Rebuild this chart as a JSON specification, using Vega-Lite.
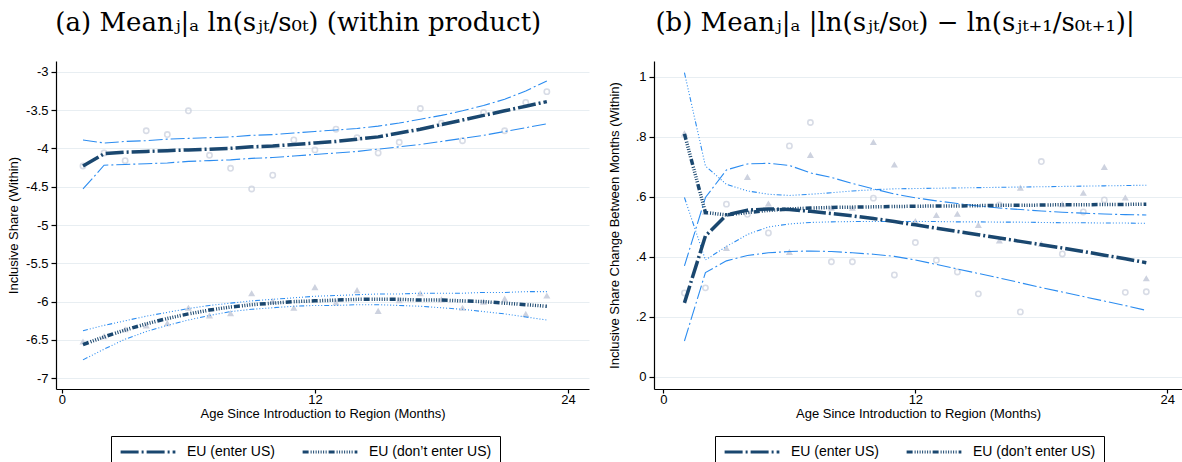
{
  "$schema": "https://vega.github.io/schema/vega-lite/v6.json",
  "padding": {"left": 7, "top": 10, "right": 0, "bottom": 0},
  "background": "white",
  "config": {
    "view": {"stroke": null},
    "font": "Liberation Sans",
    "axis": {
      "labelFont": "Liberation Sans", "labelFontSize": 13, "labelColor": "black",
      "titleFont": "Liberation Sans", "titleFontSize": 13, "titleColor": "black", "titleFontWeight": "normal",
      "domainColor": "black", "domainWidth": 1.2, "tickColor": "black", "tickSize": 5, "tickWidth": 1.2,
      "labelPadding": 3, "gridColor": "#e8eef2", "gridWidth": 1
    },
    "axisX": {"tickSize": 4, "labelPadding": 0, "titlePadding": 1},
    "title": {"font": "DejaVu Serif", "fontSize": 26, "fontWeight": "normal", "color": "black", "anchor": "middle", "frame": "bounds", "offset": 25},
    "concat": {"spacing": 19}
  },
  "datasets": {
    "left": [
      {"month": 1, "grp": "EU (enter US)", "pt": -4.23, "fit": -4.23, "lo": -4.53, "hi": -3.89},
      {"month": 2, "grp": "EU (enter US)", "pt": -4.06, "fit": -4.07, "lo": -4.22, "hi": -3.93},
      {"month": 3, "grp": "EU (enter US)", "pt": -4.16, "fit": -4.05, "lo": -4.21, "hi": -3.91},
      {"month": 4, "grp": "EU (enter US)", "pt": -3.77, "fit": -4.04, "lo": -4.20, "hi": -3.90},
      {"month": 5, "grp": "EU (enter US)", "pt": -3.82, "fit": -4.03, "lo": -4.19, "hi": -3.88},
      {"month": 6, "grp": "EU (enter US)", "pt": -3.51, "fit": -4.02, "lo": -4.17, "hi": -3.87},
      {"month": 7, "grp": "EU (enter US)", "pt": -4.09, "fit": -4.01, "lo": -4.16, "hi": -3.86},
      {"month": 8, "grp": "EU (enter US)", "pt": -4.26, "fit": -4.00, "lo": -4.15, "hi": -3.85},
      {"month": 9, "grp": "EU (enter US)", "pt": -4.53, "fit": -3.98, "lo": -4.13, "hi": -3.83},
      {"month": 10, "grp": "EU (enter US)", "pt": -4.35, "fit": -3.97, "lo": -4.12, "hi": -3.82},
      {"month": 11, "grp": "EU (enter US)", "pt": -3.89, "fit": -3.95, "lo": -4.10, "hi": -3.80},
      {"month": 12, "grp": "EU (enter US)", "pt": -4.02, "fit": -3.93, "lo": -4.08, "hi": -3.78},
      {"month": 13, "grp": "EU (enter US)", "pt": -3.75, "fit": -3.91, "lo": -4.06, "hi": -3.76},
      {"month": 14, "grp": "EU (enter US)", "pt": -3.86, "fit": -3.88, "lo": -4.04, "hi": -3.74},
      {"month": 15, "grp": "EU (enter US)", "pt": -4.06, "fit": -3.85, "lo": -4.01, "hi": -3.71},
      {"month": 16, "grp": "EU (enter US)", "pt": -3.92, "fit": -3.80, "lo": -3.98, "hi": -3.67},
      {"month": 17, "grp": "EU (enter US)", "pt": -3.48, "fit": -3.75, "lo": -3.95, "hi": -3.62},
      {"month": 18, "grp": "EU (enter US)", "pt": -3.67, "fit": -3.69, "lo": -3.91, "hi": -3.57},
      {"month": 19, "grp": "EU (enter US)", "pt": -3.90, "fit": -3.63, "lo": -3.87, "hi": -3.51},
      {"month": 20, "grp": "EU (enter US)", "pt": -3.53, "fit": -3.57, "lo": -3.83, "hi": -3.44},
      {"month": 21, "grp": "EU (enter US)", "pt": -3.77, "fit": -3.51, "lo": -3.78, "hi": -3.36},
      {"month": 22, "grp": "EU (enter US)", "pt": -3.40, "fit": -3.45, "lo": -3.73, "hi": -3.25},
      {"month": 23, "grp": "EU (enter US)", "pt": -3.26, "fit": -3.39, "lo": -3.68, "hi": -3.12},
      {"month": 1, "grp": "EU (don’t enter US)", "pt": -6.52, "fit": -6.56, "lo": -6.76, "hi": -6.38},
      {"month": 2, "grp": "EU (don’t enter US)", "pt": -6.45, "fit": -6.46, "lo": -6.62, "hi": -6.31},
      {"month": 3, "grp": "EU (don’t enter US)", "pt": -6.36, "fit": -6.37, "lo": -6.49, "hi": -6.25},
      {"month": 4, "grp": "EU (don’t enter US)", "pt": -6.31, "fit": -6.29, "lo": -6.39, "hi": -6.19},
      {"month": 5, "grp": "EU (don’t enter US)", "pt": -6.28, "fit": -6.22, "lo": -6.31, "hi": -6.14},
      {"month": 6, "grp": "EU (don’t enter US)", "pt": -6.08, "fit": -6.16, "lo": -6.24, "hi": -6.09},
      {"month": 7, "grp": "EU (don’t enter US)", "pt": -6.18, "fit": -6.11, "lo": -6.18, "hi": -6.05},
      {"month": 8, "grp": "EU (don’t enter US)", "pt": -6.15, "fit": -6.07, "lo": -6.13, "hi": -6.02},
      {"month": 9, "grp": "EU (don’t enter US)", "pt": -5.89, "fit": -6.04, "lo": -6.10, "hi": -5.99},
      {"month": 10, "grp": "EU (don’t enter US)", "pt": -5.99, "fit": -6.02, "lo": -6.08, "hi": -5.97},
      {"month": 11, "grp": "EU (don’t enter US)", "pt": -6.08, "fit": -6.00, "lo": -6.06, "hi": -5.95},
      {"month": 12, "grp": "EU (don’t enter US)", "pt": -5.81, "fit": -5.99, "lo": -6.05, "hi": -5.93},
      {"month": 13, "grp": "EU (don’t enter US)", "pt": -6.01, "fit": -5.98, "lo": -6.05, "hi": -5.92},
      {"month": 14, "grp": "EU (don’t enter US)", "pt": -5.85, "fit": -5.97, "lo": -6.04, "hi": -5.91},
      {"month": 15, "grp": "EU (don’t enter US)", "pt": -6.12, "fit": -5.97, "lo": -6.04, "hi": -5.90},
      {"month": 16, "grp": "EU (don’t enter US)", "pt": -5.98, "fit": -5.97, "lo": -6.05, "hi": -5.90},
      {"month": 17, "grp": "EU (don’t enter US)", "pt": -5.89, "fit": -5.98, "lo": -6.06, "hi": -5.89},
      {"month": 18, "grp": "EU (don’t enter US)", "pt": -5.97, "fit": -5.98, "lo": -6.08, "hi": -5.89},
      {"month": 19, "grp": "EU (don’t enter US)", "pt": -6.08, "fit": -5.99, "lo": -6.10, "hi": -5.89},
      {"month": 20, "grp": "EU (don’t enter US)", "pt": -6.00, "fit": -6.00, "lo": -6.13, "hi": -5.88},
      {"month": 21, "grp": "EU (don’t enter US)", "pt": -5.96, "fit": -6.02, "lo": -6.16, "hi": -5.88},
      {"month": 22, "grp": "EU (don’t enter US)", "pt": -6.16, "fit": -6.04, "lo": -6.20, "hi": -5.87},
      {"month": 23, "grp": "EU (don’t enter US)", "pt": -5.92, "fit": -6.06, "lo": -6.24, "hi": -5.87}
    ],
    "right": [
      {"month": 1, "grp": "EU (enter US)", "pt": 0.28, "fit": 0.247, "lo": 0.12, "hi": 0.37},
      {"month": 2, "grp": "EU (enter US)", "pt": 0.297, "fit": 0.47, "lo": 0.348, "hi": 0.598},
      {"month": 3, "grp": "EU (enter US)", "pt": 0.576, "fit": 0.54, "lo": 0.387, "hi": 0.69},
      {"month": 4, "grp": "EU (enter US)", "pt": 0.542, "fit": 0.556, "lo": 0.405, "hi": 0.71},
      {"month": 5, "grp": "EU (enter US)", "pt": 0.48, "fit": 0.56, "lo": 0.414, "hi": 0.712},
      {"month": 6, "grp": "EU (enter US)", "pt": 0.77, "fit": 0.558, "lo": 0.418, "hi": 0.705},
      {"month": 7, "grp": "EU (enter US)", "pt": 0.848, "fit": 0.552, "lo": 0.42, "hi": 0.68},
      {"month": 8, "grp": "EU (enter US)", "pt": 0.384, "fit": 0.545, "lo": 0.418, "hi": 0.665},
      {"month": 9, "grp": "EU (enter US)", "pt": 0.384, "fit": 0.537, "lo": 0.414, "hi": 0.645},
      {"month": 10, "grp": "EU (enter US)", "pt": 0.596, "fit": 0.528, "lo": 0.409, "hi": 0.627},
      {"month": 11, "grp": "EU (enter US)", "pt": 0.34, "fit": 0.518, "lo": 0.402, "hi": 0.61},
      {"month": 12, "grp": "EU (enter US)", "pt": 0.448, "fit": 0.507, "lo": 0.39, "hi": 0.597},
      {"month": 13, "grp": "EU (enter US)", "pt": 0.389, "fit": 0.496, "lo": 0.375, "hi": 0.587},
      {"month": 14, "grp": "EU (enter US)", "pt": 0.35, "fit": 0.485, "lo": 0.36, "hi": 0.578},
      {"month": 15, "grp": "EU (enter US)", "pt": 0.277, "fit": 0.474, "lo": 0.345, "hi": 0.57},
      {"month": 16, "grp": "EU (enter US)", "pt": 0.573, "fit": 0.463, "lo": 0.33, "hi": 0.563},
      {"month": 17, "grp": "EU (enter US)", "pt": 0.217, "fit": 0.452, "lo": 0.314, "hi": 0.558},
      {"month": 18, "grp": "EU (enter US)", "pt": 0.718, "fit": 0.441, "lo": 0.298, "hi": 0.553},
      {"month": 19, "grp": "EU (enter US)", "pt": 0.41, "fit": 0.43, "lo": 0.283, "hi": 0.549},
      {"month": 20, "grp": "EU (enter US)", "pt": 0.55, "fit": 0.418, "lo": 0.268, "hi": 0.546},
      {"month": 21, "grp": "EU (enter US)", "pt": 0.59, "fit": 0.406, "lo": 0.253, "hi": 0.543},
      {"month": 22, "grp": "EU (enter US)", "pt": 0.282, "fit": 0.394, "lo": 0.238, "hi": 0.541},
      {"month": 23, "grp": "EU (enter US)", "pt": 0.284, "fit": 0.381, "lo": 0.222, "hi": 0.54},
      {"month": 1, "grp": "EU (don’t enter US)", "pt": 0.812, "fit": 0.81, "lo": 0.598, "hi": 1.014},
      {"month": 2, "grp": "EU (don’t enter US)", "pt": 0.551, "fit": 0.548, "lo": 0.39, "hi": 0.703},
      {"month": 3, "grp": "EU (don’t enter US)", "pt": 0.43, "fit": 0.54, "lo": 0.435, "hi": 0.642},
      {"month": 4, "grp": "EU (don’t enter US)", "pt": 0.667, "fit": 0.548, "lo": 0.475, "hi": 0.62},
      {"month": 5, "grp": "EU (don’t enter US)", "pt": 0.578, "fit": 0.555, "lo": 0.5, "hi": 0.609},
      {"month": 6, "grp": "EU (don’t enter US)", "pt": 0.417, "fit": 0.56, "lo": 0.51, "hi": 0.605},
      {"month": 7, "grp": "EU (don’t enter US)", "pt": 0.74, "fit": 0.563, "lo": 0.515, "hi": 0.609},
      {"month": 8, "grp": "EU (don’t enter US)", "pt": 0.564, "fit": 0.565, "lo": 0.517, "hi": 0.614},
      {"month": 9, "grp": "EU (don’t enter US)", "pt": 0.564, "fit": 0.566, "lo": 0.518, "hi": 0.62},
      {"month": 10, "grp": "EU (don’t enter US)", "pt": 0.783, "fit": 0.567, "lo": 0.518, "hi": 0.624},
      {"month": 11, "grp": "EU (don’t enter US)", "pt": 0.708, "fit": 0.568, "lo": 0.518, "hi": 0.627},
      {"month": 12, "grp": "EU (don’t enter US)", "pt": 0.52, "fit": 0.569, "lo": 0.518, "hi": 0.628},
      {"month": 13, "grp": "EU (don’t enter US)", "pt": 0.54, "fit": 0.57, "lo": 0.518, "hi": 0.629},
      {"month": 14, "grp": "EU (don’t enter US)", "pt": 0.544, "fit": 0.57, "lo": 0.517, "hi": 0.63},
      {"month": 15, "grp": "EU (don’t enter US)", "pt": 0.507, "fit": 0.571, "lo": 0.517, "hi": 0.631},
      {"month": 16, "grp": "EU (don’t enter US)", "pt": 0.455, "fit": 0.572, "lo": 0.516, "hi": 0.632},
      {"month": 17, "grp": "EU (don’t enter US)", "pt": 0.631, "fit": 0.572, "lo": 0.516, "hi": 0.633},
      {"month": 18, "grp": "EU (don’t enter US)", "pt": 0.444, "fit": 0.573, "lo": 0.515, "hi": 0.634},
      {"month": 19, "grp": "EU (don’t enter US)", "pt": 0.576, "fit": 0.574, "lo": 0.514, "hi": 0.635},
      {"month": 20, "grp": "EU (don’t enter US)", "pt": 0.614, "fit": 0.574, "lo": 0.514, "hi": 0.636},
      {"month": 21, "grp": "EU (don’t enter US)", "pt": 0.7, "fit": 0.575, "lo": 0.513, "hi": 0.637},
      {"month": 22, "grp": "EU (don’t enter US)", "pt": 0.598, "fit": 0.575, "lo": 0.513, "hi": 0.638},
      {"month": 23, "grp": "EU (don’t enter US)", "pt": 0.329, "fit": 0.576, "lo": 0.512, "hi": 0.639}
    ]
  },
  "resolve": {"scale": {"strokeDash": "independent", "x": "independent", "y": "independent"}, "legend": {"strokeDash": "independent"}},
  "hconcat": [
    {
      "width": 533, "height": 328,
      "title": {"text": "(a) Meanⱼ|ₐ ln(sⱼₜ/s₀ₜ) (within product)"},
      "data": {"name": "left"},
      "transform": [{"fold": ["pt", "fit", "lo", "hi"], "as": ["key", "value"]}],
      "encoding": {
        "x": {"field": "month", "type": "quantitative", "scale": {"domain": [-0.28, 25.0], "nice": false, "zero": false},
              "axis": {"values": [0, 12, 24], "title": "Age Since Introduction to Region (Months)", "grid": false}},
        "y": {"field": "value", "type": "quantitative", "scale": {"domain": [-7.14, -2.86], "nice": false, "zero": false},
              "axis": {"values": [-7, -6.5, -6, -5.5, -5, -4.5, -4, -3.5, -3], "labelExpr": "'' + datum.value", "title": "Inclusive Share (Within)", "grid": true, "titlePadding": 5}}
      },
      "layer": [
        {"transform": [{"filter": "datum.key == 'pt' && datum.grp == 'EU (enter US)'"}],
         "mark": {"type": "point", "shape": "circle", "filled": false, "color": "#c8cedc", "strokeWidth": 1.6, "size": 28}},
        {"transform": [{"filter": "datum.key == 'pt' && datum.grp != 'EU (enter US)'"}],
         "mark": {"type": "point", "shape": "triangle-up", "filled": true, "color": "#cdd2df", "size": 50, "opacity": 1}},
        {"transform": [{"filter": "datum.key == 'hi' && datum.grp == 'EU (enter US)'"}],
         "mark": {"type": "line", "color": "#2b8cf0", "strokeWidth": 1.1, "strokeDash": [14, 3, 2, 3]}},
        {"transform": [{"filter": "datum.key == 'lo' && datum.grp == 'EU (enter US)'"}],
         "mark": {"type": "line", "color": "#2b8cf0", "strokeWidth": 1.1, "strokeDash": [14, 3, 2, 3]}},
        {"transform": [{"filter": "datum.key == 'hi' && datum.grp != 'EU (enter US)'"}],
         "mark": {"type": "line", "color": "#2b8cf0", "strokeWidth": 1.1, "strokeDash": [5, 2, 1, 2, 1, 2, 1, 2, 1, 2, 1, 2, 1, 2]}},
        {"transform": [{"filter": "datum.key == 'lo' && datum.grp != 'EU (enter US)'"}],
         "mark": {"type": "line", "color": "#2b8cf0", "strokeWidth": 1.1, "strokeDash": [5, 2, 1, 2, 1, 2, 1, 2, 1, 2, 1, 2, 1, 2]}},
        {"transform": [{"filter": "datum.key == 'fit'"}],
         "mark": {"type": "line", "color": "#1a476f", "strokeWidth": 3.5},
         "encoding": {
           "detail": {"field": "grp"},
           "strokeDash": {"field": "grp", "type": "nominal",
             "scale": {"domain": ["EU (enter US)", "EU (don’t enter US)"], "range": [[18, 3, 2, 3], [6, 2, 1, 1.5, 1, 1.5, 1, 1.5, 1, 1.5, 1, 1.5, 1, 1.5, 1, 2]]},
             "legend": {"orient": "none", "legendX": 55, "legendY": 375, "direction": "horizontal", "columns": 2, "title": null,
               "symbolType": "stroke", "symbolSize": 3000, "clipHeight": 16, "symbolStrokeWidth": 3, "symbolStrokeColor": "#1a476f",
               "labelFont": "Liberation Sans", "labelFontSize": 14, "labelColor": "black", "labelLimit": 300,
               "strokeColor": "black", "fillColor": "white", "padding": 8, "columnPadding": 26, "labelOffset": 10}}
         }}
      ]
    },
    {
      "width": 528, "height": 328,
      "title": {"text": "(b) Meanⱼ|ₐ |ln(sⱼₜ/s₀ₜ) − ln(sⱼₜ₊₁/s₀ₜ₊₁)|"},
      "data": {"name": "right"},
      "transform": [{"fold": ["pt", "fit", "lo", "hi"], "as": ["key", "value"]}],
      "encoding": {
        "x": {"field": "month", "type": "quantitative", "scale": {"domain": [-0.45, 24.7], "nice": false, "zero": false},
              "axis": {"values": [0, 12, 24], "title": "Age Since Introduction to Region (Months)", "grid": false}},
        "y": {"field": "value", "type": "quantitative", "scale": {"domain": [-0.04, 1.053], "nice": false, "zero": false},
              "axis": {"values": [0, 0.2, 0.4, 0.6, 0.8, 1], "labelExpr": "datum.value == 0 ? '0' : datum.value == 1 ? '1' : substring('' + datum.value, 1)", "title": "Inclusive Share Change Between Months (Within)", "grid": true, "titlePadding": 14}}
      },
      "layer": [
        {"transform": [{"filter": "datum.key == 'pt' && datum.grp == 'EU (enter US)'"}],
         "mark": {"type": "point", "shape": "circle", "filled": false, "color": "#c8cedc", "strokeWidth": 1.6, "size": 28}},
        {"transform": [{"filter": "datum.key == 'pt' && datum.grp != 'EU (enter US)'"}],
         "mark": {"type": "point", "shape": "triangle-up", "filled": true, "color": "#cdd2df", "size": 50, "opacity": 1}},
        {"transform": [{"filter": "datum.key == 'hi' && datum.grp == 'EU (enter US)'"}],
         "mark": {"type": "line", "color": "#2b8cf0", "strokeWidth": 1.1, "strokeDash": [14, 3, 2, 3]}},
        {"transform": [{"filter": "datum.key == 'lo' && datum.grp == 'EU (enter US)'"}],
         "mark": {"type": "line", "color": "#2b8cf0", "strokeWidth": 1.1, "strokeDash": [14, 3, 2, 3]}},
        {"transform": [{"filter": "datum.key == 'hi' && datum.grp != 'EU (enter US)'"}],
         "mark": {"type": "line", "color": "#2b8cf0", "strokeWidth": 1.1, "strokeDash": [5, 2, 1, 2, 1, 2, 1, 2, 1, 2, 1, 2, 1, 2]}},
        {"transform": [{"filter": "datum.key == 'lo' && datum.grp != 'EU (enter US)'"}],
         "mark": {"type": "line", "color": "#2b8cf0", "strokeWidth": 1.1, "strokeDash": [5, 2, 1, 2, 1, 2, 1, 2, 1, 2, 1, 2, 1, 2]}},
        {"transform": [{"filter": "datum.key == 'fit'"}],
         "mark": {"type": "line", "color": "#1a476f", "strokeWidth": 3.5},
         "encoding": {
           "detail": {"field": "grp"},
           "strokeDash": {"field": "grp", "type": "nominal",
             "scale": {"domain": ["EU (enter US)", "EU (don’t enter US)"], "range": [[18, 3, 2, 3], [6, 2, 1, 1.5, 1, 1.5, 1, 1.5, 1, 1.5, 1, 1.5, 1, 1.5, 1, 2]]},
             "legend": {"orient": "none", "legendX": 61, "legendY": 375, "direction": "horizontal", "columns": 2, "title": null,
               "symbolType": "stroke", "symbolSize": 3000, "clipHeight": 16, "symbolStrokeWidth": 3, "symbolStrokeColor": "#1a476f",
               "labelFont": "Liberation Sans", "labelFontSize": 14, "labelColor": "black", "labelLimit": 300,
               "strokeColor": "black", "fillColor": "white", "padding": 8, "columnPadding": 26, "labelOffset": 10}}
         }}
      ]
    }
  ]
}
